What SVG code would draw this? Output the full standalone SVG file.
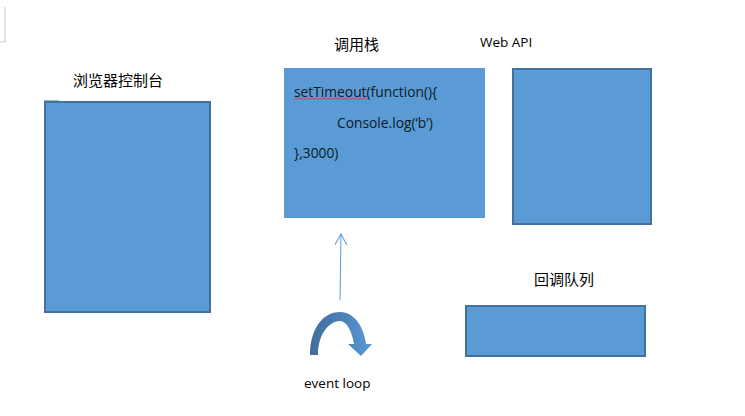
<svg xmlns="http://www.w3.org/2000/svg" width="745" height="416" viewBox="0 0 745 416">
<style>
.box{fill:#5B9BD5;stroke:#41719C;stroke-width:2}
.cjk{font-family:"Noto Sans CJK SC","Liberation Sans",sans-serif;font-size:15px;fill:#000}
.lat{font-family:"Open Sans","Liberation Sans",sans-serif;font-size:13.5px;fill:#000}
.code{font-family:"Open Sans","Liberation Sans",sans-serif;font-size:13.8px;fill:#0d1a26}
</style>
<defs>
<marker id="open" viewBox="0 0 12 12" refX="11" refY="6" markerWidth="12" markerHeight="12" markerUnits="userSpaceOnUse" orient="auto">
<path d="M0,0 L11,6 L0,12" fill="none" stroke="#5B9BD5" stroke-width="1"/>
</marker>
<linearGradient id="curv" x1="0" y1="0" x2="1" y2="0">
<stop offset="0" stop-color="#3E6E9C"/>
<stop offset="0.5" stop-color="#4A80B8"/>
<stop offset="1" stop-color="#5B9BD5"/>
</linearGradient>
</defs>
<rect width="745" height="416" fill="#fff"/>
<path d="M5,7 V42 H0" fill="none" stroke="#c8c8c8" stroke-width="1"/>

<g id="console">
<text class="cjk" x="73" y="86">浏览器控制台</text>
<rect x="44" y="100.5" width="15" height="2" fill="#41719C"/>
<rect class="box" x="45" y="102" width="165" height="210"/>
</g>

<g id="callstack">
<text class="cjk" x="334" y="50">调用栈</text>
<rect x="284" y="68" width="201" height="150" fill="#5B9BD5"/>
<text class="code" x="294" y="97">setTimeout(function(){</text>
<path d="M294,99.5 l2,-1.5 l2,1.5 l2,-1.5 l2,1.5 l2,-1.5 l2,1.5 l2,-1.5 l2,1.5 l2,-1.5 l2,1.5 l2,-1.5 l2,1.5 l2,-1.5 l2,1.5 l2,-1.5 l2,1.5 l2,-1.5 l2,1.5 l2,-1.5 l2,1.5 l2,-1.5 l2,1.5 l2,-1.5 l2,1.5 l2,-1.5 l2,1.5 l2,-1.5 l2,1.5 l2,-1.5 l2,1.5 l2,-1.5 l2,1.5 l2,-1.5 l2,1.5 l2,-1.5 l2,1.5 l1,-1" fill="none" stroke="#e03030" stroke-width="0.8"/>
<text class="code" x="337" y="128">Console.log(‘b’)</text>
<text class="code" x="294" y="158">},3000)</text>
</g>

<g id="webapi">
<text class="lat" x="480" y="47">Web API</text>
<rect class="box" x="513" y="69" width="138" height="155"/>
</g>

<g id="queue">
<text class="cjk" x="534" y="285">回调队列</text>
<rect class="box" x="466" y="306" width="179" height="50"/>
</g>

<g id="eventloop">
<path d="M310,355 C310,330 322,312 340,312 C355,312 364,328 366,344 L372,344 L361,356 L348,344 L354,344 C352,332 347,321 340,321 C330,321 318,333 318,355 Z" fill="url(#curv)"/>
<text class="lat" x="304" y="388">event loop</text>
</g>

<g id="connectors">
<line x1="340" y1="300" x2="341" y2="234" stroke="#5B9BD5" stroke-width="1" marker-end="url(#open)"/>
</g>
</svg>
